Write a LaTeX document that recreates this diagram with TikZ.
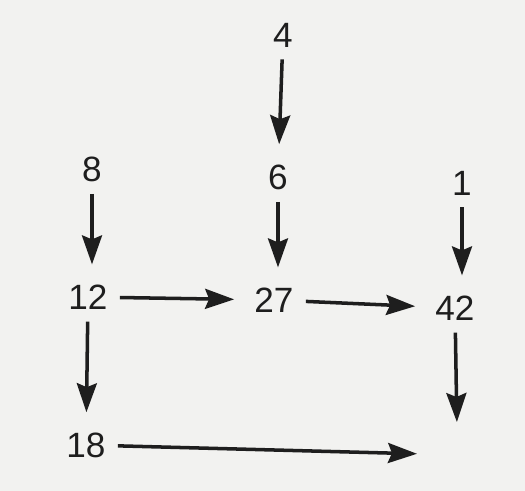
\documentclass[tikz,border=0pt]{standalone}
\usepackage{fontspec}
\setmainfont{Liberation Sans}
\usepackage{xcolor}
\usetikzlibrary{arrows.meta, positioning}

\definecolor{paper}{HTML}{F2F2F0}
\definecolor{ink}{HTML}{1E1E1E}

\begin{document}
\begin{tikzpicture}[
  x=0.02cm, y=-0.02cm,
  num/.style={text=ink, inner xsep=0.24cm, inner ysep=0.24cm, font=\fontsize{20}{24}\selectfont},
  arr/.style={-{Stealth[length=0.58cm, width=0.4cm, inset=0.08cm]}, line width=2pt, draw=ink, shorten >=0.16cm}
]
\useasboundingbox[fill=paper] (0,0) rectangle (525,491);

\node[num] (n4) at (283,35) {4};
\node[num] (n6) at (278,177) {6};
\node[num] (n8) at (92,169) {8};
\node[num] (n1) at (462,183) {1};
\node[num] (n12) at (88,297) {12};
\node[num] (n27) at (274,300) {27};
\node[num] (n42) at (455,308) {42};
\node[num] (n18) at (86,445) {18};
\coordinate (e42) at (457,430);
\coordinate (e18) at (425,454);

\draw[arr] (n4) -- (n6);
\draw[arr] (n6) -- (n6 |- n27.north);
\draw[arr] (n8) -- (n8 |- n12.north);
\draw[arr] (n1) -- (n1 |- n42.north);
\draw[arr] (n12) -- (n27);
\draw[arr] (n27) -- (n42);
\draw[arr] (n12) -- (n18);
\draw[arr] (n42) -- (e42);
\draw[arr] (n18) -- (e18);
\end{tikzpicture}
\end{document}
